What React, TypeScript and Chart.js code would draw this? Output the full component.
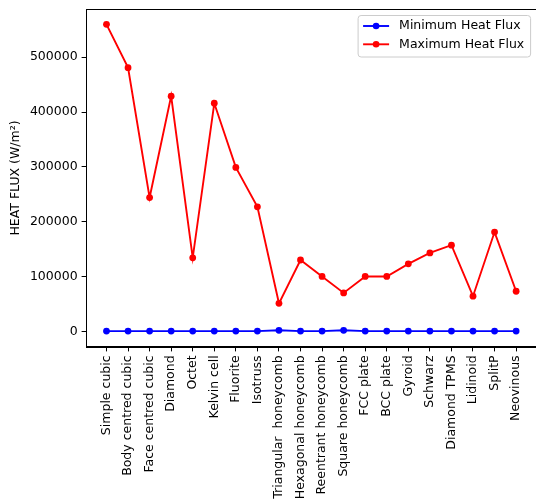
import React, { useEffect, useRef } from "react";
import { Chart, registerables } from "chart.js";
Chart.register(...registerables);

const categories = [
  "Simple cubic",
  "Body centred cubic",
  "Face centred cubic",
  "Diamond",
  "Octet",
  "Kelvin cell",
  "Fluorite",
  "Isotruss",
  "Triangular  honeycomb",
  "Hexagonal honeycomb",
  "Reentrant honeycomb",
  "Square honeycomb",
  "FCC plate",
  "BCC plate",
  "Gyroid",
  "Schwarz",
  "Diamond TPMS",
  "Lidinoid",
  "SplitP",
  "Neovinous",
];

const minFlux = [300, 300, 300, 300, 300, 300, 300, 300, 1800, 300, 300, 1800, 300, 300, 300, 300, 300, 300, 300, 300];
const maxFlux = [
  560000, 481000, 244000, 429000, 134000, 416000, 299000, 227000, 51000, 130000,
  100000, 70000, 100000, 100000, 123000, 143000, 157000, 64000, 181000, 73000,
];

const yTicks = [0, 100000, 200000, 300000, 400000, 500000];
const yMin = -28700;
const yMax = 588000;

const seriesLabels = ["Minimum Heat Flux", "Maximum Heat Flux"];
const seriesColors = ["#0000ff", "#ff0000"];

const FONT = "DejaVu Sans";
const FS = 12.5;

const framePlugin = {
  id: "frame",
  afterDraw(chart: any) {
    const { ctx, chartArea: a } = chart;
    ctx.save();
    ctx.strokeStyle = "#000";
    ctx.lineWidth = 1;
    ctx.strokeRect(Math.round(a.left) + 0.5, Math.round(a.top) + 0.5, Math.round(a.right - a.left) - 1, Math.round(a.bottom - a.top) - 1);
    ctx.restore();
  },
};

const legendPlugin = {
  id: "insideLegend",
  afterDraw(chart: any) {
    const { ctx, chartArea: a } = chart;
    const x = a.right - 178.5;
    const y = a.top + 6.5;
    const w = 172.5;
    const h = 41.5;
    ctx.save();
    ctx.fillStyle = "rgba(255,255,255,0.8)";
    ctx.strokeStyle = "#cccccc";
    ctx.lineWidth = 1;
    ctx.beginPath();
    if ((ctx as any).roundRect) (ctx as any).roundRect(x, y, w, h, 3);
    else ctx.rect(x, y, w, h);
    ctx.fill();
    ctx.stroke();
    chart.data.datasets.forEach((ds: any, i: number) => {
      const ry = y + 10.5 + i * 18.3;
      ctx.strokeStyle = ds.borderColor;
      ctx.lineWidth = 1.9;
      ctx.beginPath();
      ctx.moveTo(x + 5, ry);
      ctx.lineTo(x + 31, ry);
      ctx.stroke();
      ctx.fillStyle = ds.borderColor;
      ctx.beginPath();
      ctx.arc(x + 18, ry, 3.3, 0, Math.PI * 2);
      ctx.fill();
      ctx.fillStyle = "#000";
      ctx.font = `${FS}px "${FONT}"`;
      ctx.textBaseline = "middle";
      ctx.textAlign = "left";
      ctx.fillText(ds.label, x + 41, ry);
    });
    ctx.restore();
  },
};

export default function App() {
  const ref = useRef<HTMLCanvasElement>(null);
  useEffect(() => {
    document.body.style.margin = "0";
    const series = [minFlux, maxFlux];
    const chart = new Chart(ref.current!, {
      type: "line",
      data: {
        datasets: series.map((vals, si) => ({
          label: seriesLabels[si],
          data: vals.map((v, i) => ({ x: i, y: v })),
          borderColor: seriesColors[si],
          backgroundColor: seriesColors[si],
          pointBackgroundColor: seriesColors[si],
          pointBorderWidth: 0,
          borderWidth: 1.9,
          pointRadius: 3.4,
          pointHoverRadius: 3.4,
          tension: 0,
        })),
      },
      options: {
        responsive: false,
        animation: false,
        devicePixelRatio: 1,
        layout: { padding: { top: 9, right: 2, left: 0, bottom: 0 } },
        plugins: { legend: { display: false }, tooltip: { enabled: false } },
        scales: {
          x: {
            type: "linear",
            min: -0.95,
            max: 19.95,
            afterBuildTicks: (s: any) => {
              s.ticks = categories.map((_, i) => ({ value: i }));
            },
            afterFit: (s: any) => {
              s.height = 155;
              s.paddingLeft = 0;
              s.paddingRight = 0;
            },
            ticks: {
              autoSkip: false,
              minRotation: 90,
              maxRotation: 90,
              padding: 4,
              color: "#000",
              font: { family: FONT, size: FS },
              callback: (_v: any, i: number) => categories[i],
            },
            grid: { drawOnChartArea: false, tickLength: 4.4, tickColor: "#000" },
            border: { color: "#000" },
          },
          y: {
            type: "linear",
            min: yMin,
            max: yMax,
            afterBuildTicks: (s: any) => {
              s.ticks = yTicks.map((v) => ({ value: v }));
            },
            afterFit: (s: any) => {
              s.width = 86;
              s.paddingTop = 0;
              s.paddingBottom = 0;
            },
            ticks: {
              padding: 4,
              color: "#000",
              font: { family: FONT, size: FS },
              callback: (v: any) => String(v),
            },
            grid: { drawOnChartArea: false, tickLength: 4.4, tickColor: "#000" },
            border: { color: "#000" },
            title: {
              display: true,
              text: "HEAT FLUX (W/m²)",
              color: "#000",
              font: { family: FONT, size: FS },
              padding: { top: 8, bottom: 0 },
            },
          },
        },
      },
      plugins: [framePlugin, legendPlugin],
    });
    return () => chart.destroy();
  }, []);
  return (
    <div style={{ position: "fixed", left: 0, top: 0, width: 536, height: 502, overflow: "hidden", background: "#fff" }}>
      <canvas ref={ref} width={540} height={502} style={{ width: 540, height: 502, display: "block" }} />
    </div>
  );
}
